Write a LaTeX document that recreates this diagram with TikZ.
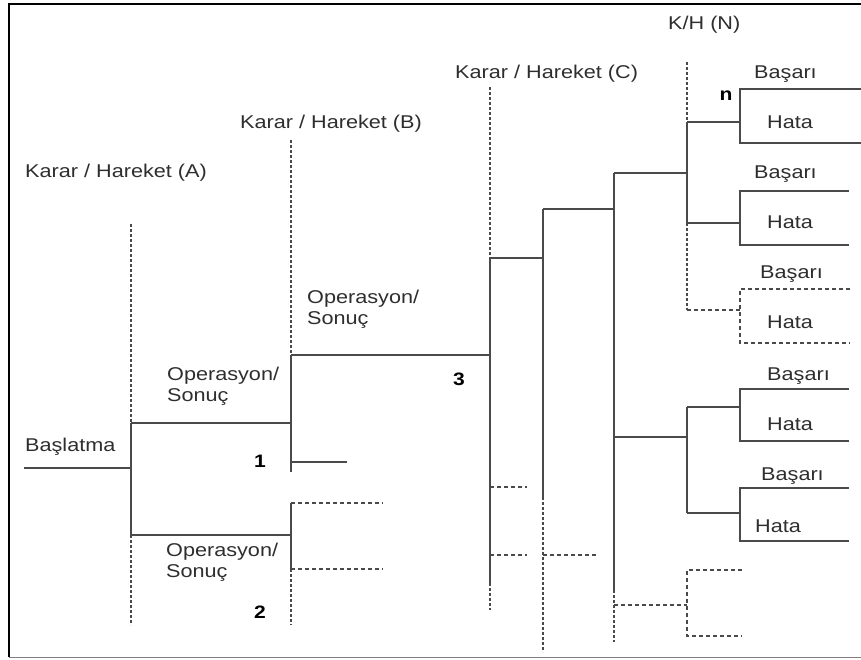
\documentclass[tikz,border=0pt]{standalone}
\usepackage{fontspec}
\setmainfont{Liberation Sans}[FakeStretch=1.17]
\definecolor{inkgray}{HTML}{2E2E2E}
\definecolor{linegray}{HTML}{4A4A4A}
\begin{document}
\begin{tikzpicture}[x=1pt,y=-1pt,
 lbl/.style={anchor=base west,inner sep=0pt,text=inkgray,font=\fontsize{18.5}{21}\selectfont},
 oplbl/.style={lbl,anchor=north west,align=left},
 num/.style={anchor=base,inner sep=0pt,text=black,font=\fontsize{18}{20}\selectfont\bfseries},
 branch/.style={linegray,line width=1.5pt},
 guide/.style={linegray,line width=1.4pt,dash pattern=on 3pt off 2pt},
 open/.style={linegray,line width=1.2pt,dash pattern=on 4pt off 3pt}]
 \useasboundingbox (0,0) rectangle (861,659);
 \draw[line width=2pt] (9,657) -- (9,4) -- (861,4);
 \draw[gray,line width=1.2pt] (9,657.5) -- (861,657.5);
 % headings and labels
 \node[lbl] (labA) at (25,177) {Karar / Hareket (A)};
 \node[lbl] (labB) at (240,128) {Karar / Hareket (B)};
 \node[lbl] (labC) at (455,78) {Karar / Hareket (C)};
 \node[lbl] (labN) at (668,29) {K/H (N)};
 \node[lbl] (start) at (25,451) {Başlatma};
 \node[oplbl] (opA1) at (167,367) {Operasyon/\\Sonuç};
 \node[oplbl] (opA2) at (166,543) {Operasyon/\\Sonuç};
 \node[oplbl] (opB) at (307,290) {Operasyon/\\Sonuç};
 \node[num] (num1) at (260,467) {1};
 \node[num] (num2) at (260,618) {2};
 \node[num] (num3) at (459,385) {3};
 \node[num] (numn) at (726,100) {n};
 \foreach \i/\bx/\by/\hx/\hy in {1/754/78/767/128,2/754/178/767/228,3/760/278/767/328,4/767/380/767/430,5/761/480/755/532}
 {
  \node[lbl] (basari\i) at (\bx,\by) {Başarı};
  \node[lbl] (hata\i) at (\hx,\hy) {Hata};
 }
 % level A
 \draw[branch] (24,468) -- (131,468);
 \draw[guide] (131,224) -- (131,423);
 \draw[branch] (131,423) -- (131,535);
 \draw[guide] (131,535) -- (131,625);
 \draw[branch] (131,423) -- (291,423);
 \draw[branch] (131,535) -- (291,535);
 % level B
 \draw[guide] (291,140) -- (291,355);
 \draw[branch] (291,355) -- (291,472);
 \draw[branch] (291,503) -- (291,569);
 \draw[guide] (291,569) -- (291,625);
 \draw[branch] (291,355) -- (490,355);
 \draw[branch] (291,462) -- (347,462);
 \draw[open] (291,503) -- (383,503);
 \draw[open] (291,569) -- (383,569);
 % level C
 \draw[guide] (490,87) -- (490,258);
 \draw[branch] (490,258) -- (490,583);
 \draw[guide] (490,583) -- (490,610);
 \draw[branch] (490,258) -- (543,258);
 \draw[open] (490,487) -- (527,487);
 \draw[open] (490,555) -- (527,555);
 \draw[branch] (543,209) -- (543,497);
 \draw[guide] (543,497) -- (543,652);
 \draw[branch] (543,209) -- (614,209);
 \draw[open] (543,555) -- (598,555);
 \draw[branch] (614,173) -- (614,590);
 \draw[guide] (614,590) -- (614,642);
 \draw[branch] (614,173) -- (687,173);
 \draw[branch] (614,437) -- (687,437);
 \draw[open] (614,605) -- (687,605);
 % level N
 \draw[guide] (687,62) -- (687,122);
 \draw[branch] (687,122) -- (687,223);
 \draw[guide] (687,223) -- (687,310);
 \draw[open] (687,310) -- (740,310);
 \draw[branch] (687,122) -- (740,122);
 \draw[branch] (687,223) -- (740,223);
 \draw[branch] (687,407) -- (687,513);
 \draw[branch] (687,407) -- (740,407);
 \draw[branch] (687,513) -- (740,513);
 \draw[open] (742,570) -| (687,636) -- (742,636);
 % outcomes
 \draw[branch] (861,89) -| (740,143) -- (861,143);
 \draw[branch] (849,191) -| (740,245) -- (849,245);
 \draw[open] (850,289) -| (740,343) -- (850,343);
 \draw[branch] (849,389) -| (740,441) -- (849,441);
 \draw[branch] (849,488) -| (740,541) -- (849,541);
\end{tikzpicture}
\end{document}
